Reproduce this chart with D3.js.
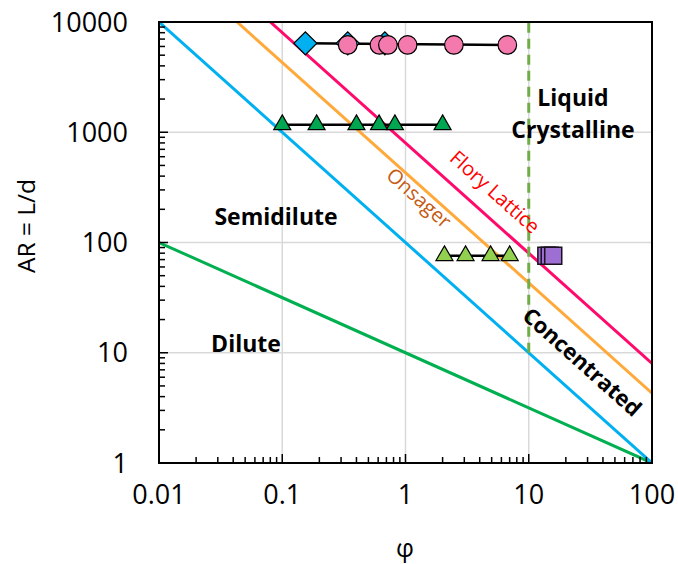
<!DOCTYPE html>
<html>
<head>
<meta charset="utf-8">
<script src="https://cdn.jsdelivr.net/npm/d3@7"></script>
<style>
  html, body { margin: 0; padding: 0; background: #fff; }
  svg { display: block; font-family: "Open Sans", Lato, "Liberation Sans", sans-serif; }
</style>
</head>
<body>
<svg id="chart" width="678" height="564"></svg>
<script>
// Axis ticks
const xTicks = [0.01, 0.1, 1, 10, 100];
const xTickLabels = ["0.01", "0.1", "1", "10", "100"];
const yTicks = [1, 10, 100, 1000, 10000];
const yTickLabels = ["1", "10", "100", "1000", "10000"];

// Regime boundaries, as [φ, AR] endpoints
const diluteLine = [[0.01, 100], [100, 1]];
const semidiluteLine = [[0.01, 10000], [100, 1]];
const onsagerLine = [[0.043, 10000], [100, 4.3]];
const floryLine = [[0.08, 10000], [100, 8]];
const lcBoundary = [[10, 10], [10, 10000]];

// Measured systems
const diamondPhi = [0.154, 0.34, 0.68];
const diamondAR = [6400, 6400, 6400];
const circlePhi = [0.34, 0.615, 0.72, 1.04, 2.47, 6.7];
const circleAR = [6200, 6200, 6200, 6200, 6200, 6200];
const triPhi = [0.1, 0.19, 0.4, 0.61, 0.82, 2.0];
const triAR = [1170, 1170, 1170, 1170, 1170, 1170];
const lightTriPhi = [2.07, 3.07, 4.9, 7.0];
const lightTriAR = [76, 76, 76, 76];
const squarePhi = [13.9, 14.8, 15.8];
const squareAR = [76, 76, 76];

const mLeft = 159, mRight = 652, mTop = 22, mBottom = 463;
const svg = d3.select("#chart");
const x = d3.scaleLog().domain([0.01, 100]).range([mLeft, mRight]);
const y = d3.scaleLog().domain([1, 10000]).range([mBottom, mTop]);

const zip = (a, b) => a.map((v, i) => [v, b[i]]);

svg.append("defs").append("clipPath").attr("id", "plot")
  .append("rect").attr("x", mLeft).attr("y", mTop)
  .attr("width", mRight - mLeft).attr("height", mBottom - mTop);

// Gridlines
const grid = svg.append("g").attr("stroke", "#d9d9d9").attr("stroke-width", 1.5);
grid.selectAll(".gx").data(xTicks.slice(1, -1)).join("line")
  .attr("x1", d => x(d)).attr("x2", d => x(d)).attr("y1", mTop).attr("y2", mBottom);
grid.selectAll(".gy").data(yTicks.slice(1, -1)).join("line")
  .attr("y1", d => y(d)).attr("y2", d => y(d)).attr("x1", mLeft).attr("x2", mRight);

// Regime boundary lines
const line = d3.line().x(d => x(d[0])).y(d => y(d[1]));
const lines = svg.append("g").attr("clip-path", "url(#plot)").attr("fill", "none");
[[diluteLine, "#00b050"], [semidiluteLine, "#00b0f0"], [onsagerLine, "#ffa93a"], [floryLine, "#ff0a6c"]]
  .forEach(([p, c]) => lines.append("path").attr("d", line(p)).attr("stroke", c).attr("stroke-width", 3));
lines.append("path").attr("d", line(lcBoundary)).attr("stroke", "#70ad47")
  .attr("stroke-width", 3).attr("stroke-dasharray", "10,6");

// Axes with inward minor ticks
function minorValues(lo, hi) {
  const out = [];
  for (let e = Math.log10(lo); e < Math.log10(hi); e++)
    for (let m = 2; m <= 9; m++) out.push(m * Math.pow(10, e));
  return out;
}
const ticks = svg.append("g").attr("stroke", "#000").attr("stroke-width", 1.5);
ticks.selectAll(".mx").data(minorValues(0.01, 100)).join("line")
  .attr("x1", d => x(d)).attr("x2", d => x(d)).attr("y1", mBottom).attr("y2", mBottom - 6);
ticks.selectAll(".Mx").data(xTicks).join("line")
  .attr("x1", d => x(d)).attr("x2", d => x(d)).attr("y1", mBottom).attr("y2", mBottom - 9);
ticks.selectAll(".my").data(minorValues(1, 10000)).join("line")
  .attr("y1", d => y(d)).attr("y2", d => y(d)).attr("x1", mLeft).attr("x2", mLeft + 6);
ticks.selectAll(".My").data(yTicks).join("line")
  .attr("y1", d => y(d)).attr("y2", d => y(d)).attr("x1", mLeft).attr("x2", mLeft + 9);

svg.append("rect").attr("x", mLeft).attr("y", mTop)
  .attr("width", mRight - mLeft).attr("height", mBottom - mTop)
  .attr("fill", "none").attr("stroke", "#000").attr("stroke-width", 2);

// Tick labels
svg.append("g").selectAll("text").data(xTicks).join("text")
  .attr("x", d => x(d)).attr("y", 504).attr("text-anchor", "middle")
  .attr("font-size", 27).attr("fill", "#000")
  .text((d, i) => xTickLabels[i]);
svg.append("g").selectAll("text").data(yTicks).join("text")
  .attr("x", 128).attr("y", d => y(d)).attr("dy", "0.36em").attr("text-anchor", "end")
  .attr("font-size", 27).attr("fill", "#000")
  .text((d, i) => yTickLabels[i]);

// Axis titles
svg.append("text").attr("transform", "translate(26,226) rotate(-90)")
  .attr("dy", "0.35em").attr("text-anchor", "middle").attr("font-size", 24.5).text("AR = L/d");
svg.append("text").attr("x", 405).attr("y", 557)
  .attr("text-anchor", "middle").attr("font-size", 25).text("φ");

// Data markers
const pts = svg.append("g");
function connector(phi, ar) {
  pts.append("path").attr("d", line(zip(phi, ar)))
    .attr("fill", "none").attr("stroke", "#000").attr("stroke-width", 2.5);
}
connector([diamondPhi[0], circlePhi[circlePhi.length - 1]], [diamondAR[0], circleAR[0]]);
connector(triPhi, triAR);
connector(lightTriPhi, lightTriAR);

const diamond = d3.symbol().type(d3.symbolSquare).size(265);
const tri = d3.symbol().type(d3.symbolTriangle).size(125);
const square = d3.symbol().type(d3.symbolSquare).size(290);

pts.selectAll(".dia").data(zip(diamondPhi, diamondAR)).join("path")
  .attr("transform", d => `translate(${x(d[0])},${y(d[1])}) rotate(45)`)
  .attr("d", diamond).attr("fill", "#00b0f0").attr("stroke", "#000").attr("stroke-width", 1.2);
pts.selectAll(".cir").data(zip(circlePhi, circleAR)).join("circle")
  .attr("cx", d => x(d[0])).attr("cy", d => y(d[1])).attr("r", 9.3)
  .attr("fill", "#f47aae").attr("stroke", "#000").attr("stroke-width", 1.2);
pts.selectAll(".tri").data(zip(triPhi, triAR)).join("path")
  .attr("transform", d => `translate(${x(d[0])},${y(d[1])})`)
  .attr("d", tri).attr("fill", "#00a650").attr("stroke", "#000").attr("stroke-width", 1.2);
pts.selectAll(".ltri").data(zip(lightTriPhi, lightTriAR)).join("path")
  .attr("transform", d => `translate(${x(d[0])},${y(d[1])})`)
  .attr("d", tri).attr("fill", "#92d050").attr("stroke", "#000").attr("stroke-width", 1.2);
pts.selectAll(".sq").data(zip(squarePhi, squareAR)).join("path")
  .attr("transform", d => `translate(${x(d[0])},${y(d[1])})`)
  .attr("d", square).attr("fill", "#9e6fd2").attr("stroke", "#1a1020").attr("stroke-width", 1.5);

// Region labels
const angle = Math.atan2(y(1) - y(10), x(10) - x(1)) * 180 / Math.PI;
const lab = svg.append("g").attr("text-anchor", "middle");
lab.append("text").attr("x", 573).attr("y", 106).attr("font-size", 23).attr("font-weight", "bold").text("Liquid");
lab.append("text").attr("x", 573).attr("y", 138).attr("font-size", 23).attr("font-weight", "bold").text("Crystalline");
lab.append("text").attr("x", 276).attr("y", 225).attr("font-size", 23).attr("font-weight", "bold").text("Semidilute");
lab.append("text").attr("x", 246).attr("y", 352).attr("font-size", 23).attr("font-weight", "bold").text("Dilute");
lab.append("text").attr("transform", `translate(582,362) rotate(${angle})`).attr("dy", "0.35em")
  .attr("font-size", 22).attr("font-weight", "bold").text("Concentrated");
lab.append("text").attr("transform", `translate(495,192) rotate(${angle})`).attr("dy", "0.35em")
  .attr("font-size", 20).attr("fill", "#ff0000").text("Flory Lattice");
lab.append("text").attr("transform", `translate(419,198) rotate(${angle})`).attr("dy", "0.35em")
  .attr("font-size", 20).attr("fill", "#c55a11").text("Onsager");
</script>
</body>
</html>
